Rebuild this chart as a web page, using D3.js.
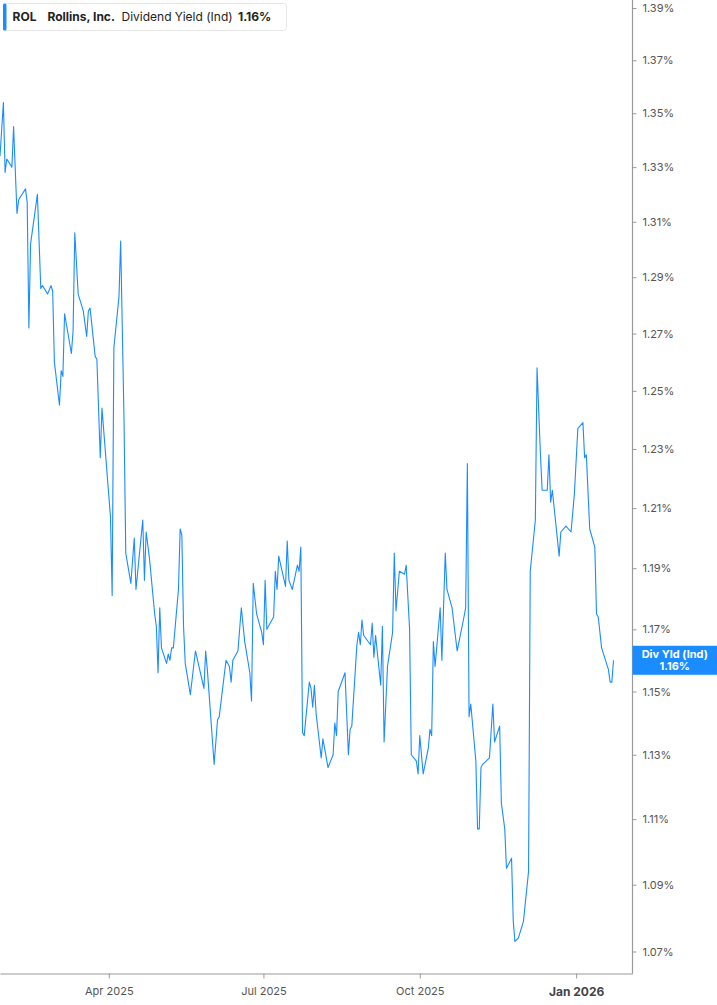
<!DOCTYPE html>
<html lang="en">

<head>
    <meta charset="UTF-8">
    <title>ROL Dividend Yield (Ind)</title>
    <script src="https://cdn.jsdelivr.net/npm/d3@7"></script>
    <style>
        body { margin: 0; background: #fff; }
        svg text { font-family: Inter, "Noto Sans", Arial, sans-serif; }
    </style>
</head>

<body>
    <svg width="717" height="1005"></svg>

    <script>
        // trading days and dividend yield (%)
        const dates = [
            "2025-01-27", "2025-01-29", "2025-01-30", "2025-01-31", "2025-02-03", "2025-02-04", "2025-02-06", "2025-02-07",
            "2025-02-11", "2025-02-12", "2025-02-13", "2025-02-14", "2025-02-18", "2025-02-20", "2025-02-21", "2025-02-24",
            "2025-02-26", "2025-02-27", "2025-02-28", "2025-03-03", "2025-03-04", "2025-03-05", "2025-03-06", "2025-03-10",
            "2025-03-11", "2025-03-12", "2025-03-14", "2025-03-17", "2025-03-19", "2025-03-20", "2025-03-21", "2025-03-24",
            "2025-03-25", "2025-03-27", "2025-03-28", "2025-04-02", "2025-04-03", "2025-04-04", "2025-04-07", "2025-04-08",
            "2025-04-10", "2025-04-11", "2025-04-14", "2025-04-16", "2025-04-17", "2025-04-21", "2025-04-22", "2025-04-23",
            "2025-04-25", "2025-04-28", "2025-04-29", "2025-04-30", "2025-05-01", "2025-05-02", "2025-05-05", "2025-05-06",
            "2025-05-07", "2025-05-08", "2025-05-09", "2025-05-12", "2025-05-13", "2025-05-14", "2025-05-15", "2025-05-16",
            "2025-05-19", "2025-05-22", "2025-05-27", "2025-05-28", "2025-05-29", "2025-06-02", "2025-06-04", "2025-06-05",
            "2025-06-09", "2025-06-11", "2025-06-12", "2025-06-13", "2025-06-16", "2025-06-18", "2025-06-20", "2025-06-23",
            "2025-06-24", "2025-06-25", "2025-06-27", "2025-06-30", "2025-07-01", "2025-07-02", "2025-07-03", "2025-07-07",
            "2025-07-08", "2025-07-09", "2025-07-10", "2025-07-14", "2025-07-15", "2025-07-16", "2025-07-18", "2025-07-21",
            "2025-07-22", "2025-07-23", "2025-07-24", "2025-07-25", "2025-07-28", "2025-07-29", "2025-07-30", "2025-07-31",
            "2025-08-01", "2025-08-04", "2025-08-05", "2025-08-08", "2025-08-11", "2025-08-12", "2025-08-13", "2025-08-14",
            "2025-08-18", "2025-08-19", "2025-08-20", "2025-08-21", "2025-08-22", "2025-08-25", "2025-08-26", "2025-08-27",
            "2025-08-28", "2025-08-29", "2025-09-02", "2025-09-03", "2025-09-04", "2025-09-05", "2025-09-08", "2025-09-09",
            "2025-09-10", "2025-09-12", "2025-09-15", "2025-09-16", "2025-09-17", "2025-09-19", "2025-09-22", "2025-09-23",
            "2025-09-25", "2025-09-26", "2025-09-29", "2025-09-30", "2025-10-01", "2025-10-03", "2025-10-06", "2025-10-07",
            "2025-10-08", "2025-10-09", "2025-10-10", "2025-10-13", "2025-10-14", "2025-10-16", "2025-10-17", "2025-10-20",
            "2025-10-23", "2025-10-27", "2025-10-28", "2025-10-29", "2025-10-30", "2025-10-31", "2025-11-03", "2025-11-04",
            "2025-11-05", "2025-11-06", "2025-11-07", "2025-11-11", "2025-11-13", "2025-11-14", "2025-11-17", "2025-11-18",
            "2025-11-20", "2025-11-21", "2025-11-24", "2025-11-25", "2025-11-26", "2025-11-28", "2025-12-01", "2025-12-04",
            "2025-12-05", "2025-12-08", "2025-12-09", "2025-12-11", "2025-12-12", "2025-12-15", "2025-12-16", "2025-12-17",
            "2025-12-18", "2025-12-22", "2025-12-23", "2025-12-26", "2025-12-29", "2025-12-31", "2026-01-02", "2026-01-05",
            "2026-01-06", "2026-01-07", "2026-01-09", "2026-01-12", "2026-01-13", "2026-01-14", "2026-01-16", "2026-01-20",
            "2026-01-21", "2026-01-22", "2026-01-23"
        ];

        const yields = [
            1.334, 1.354, 1.328, 1.333, 1.330, 1.345, 1.313, 1.318,
            1.322, 1.317, 1.272, 1.302, 1.320, 1.286, 1.287, 1.284,
            1.287, 1.285, 1.260, 1.245, 1.257, 1.255, 1.277, 1.263,
            1.271, 1.306, 1.284, 1.278, 1.269, 1.278, 1.279, 1.262,
            1.261, 1.227, 1.244, 1.207, 1.181, 1.265, 1.283, 1.303,
            1.239, 1.195, 1.185, 1.200, 1.183, 1.206, 1.186, 1.202,
            1.193, 1.175, 1.171, 1.156, 1.177, 1.164, 1.159, 1.162,
            1.160, 1.164, 1.164, 1.183, 1.203, 1.201, 1.171, 1.159,
            1.149, 1.163, 1.151, 1.163, 1.157, 1.127, 1.141, 1.142,
            1.160, 1.158, 1.153, 1.160, 1.163, 1.177, 1.166, 1.156,
            1.147, 1.185, 1.175, 1.169, 1.165, 1.186, 1.170, 1.174,
            1.189, 1.183, 1.194, 1.184, 1.199, 1.186, 1.183, 1.191,
            1.189, 1.197, 1.137, 1.136, 1.153, 1.151, 1.145, 1.152,
            1.143, 1.129, 1.135, 1.126, 1.130, 1.140, 1.136, 1.150,
            1.156, 1.143, 1.130, 1.138, 1.139, 1.165, 1.169, 1.165,
            1.173, 1.168, 1.165, 1.172, 1.161, 1.168, 1.152, 1.171,
            1.134, 1.158, 1.169, 1.195, 1.176, 1.189, 1.188, 1.191,
            1.170, 1.130, 1.128, 1.124, 1.136, 1.124, 1.132, 1.138,
            1.136, 1.166, 1.158, 1.177, 1.160, 1.195, 1.183, 1.177,
            1.163, 1.174, 1.177, 1.225, 1.142, 1.146, 1.128, 1.107,
            1.107, 1.126, 1.127, 1.129, 1.146, 1.134, 1.139, 1.115,
            1.107, 1.095, 1.098, 1.079, 1.073, 1.074, 1.079, 1.094,
            1.189, 1.206, 1.258, 1.228, 1.216, 1.216, 1.228, 1.212,
            1.216, 1.194, 1.202, 1.204, 1.202, 1.215, 1.237, 1.239,
            1.227, 1.228, 1.203, 1.197, 1.175, 1.174, 1.164, 1.157,
            1.153, 1.153, 1.160
        ];

        const yTicks = [1.07, 1.09, 1.11, 1.13, 1.15, 1.17, 1.19, 1.21, 1.23, 1.25, 1.27, 1.29, 1.31, 1.33, 1.35, 1.37, 1.39];
        const xTickDates = ["2025-04-01", "2025-07-01", "2025-10-01", "2026-01-01"];
        const xTickLabels = ["Apr 2025", "Jul 2025", "Oct 2025", "Jan 2026"];
        const xDomain = ["2025-01-27T00:00", "2026-02-03T04:00"];

        const lineColor = "#1a8cff";
        const axisColor = "#9a9a9a";
        const plotRight = 632.5;
        const plotBottom = 973.5;

        const parseDate = d3.timeParse("%Y-%m-%d");
        const parseTime = d3.timeParse("%Y-%m-%dT%H:%M");
        const series = dates.map((d, i) => ({ date: parseDate(d), value: yields[i] }));

        const svg = d3.select("svg");

        const xScale = d3.scaleTime()
            .domain(xDomain.map(parseTime))
            .range([0, plotRight]);

        const yScale = d3.scaleLog()
            .domain([1.07, 1.39])
            .range([951.5, 8]);

        function drawAxes() {
            // right value axis
            const yAxis = svg.append("g")
                .attr("transform", `translate(${plotRight},0)`)
                .call(d3.axisRight(yScale)
                    .tickValues(yTicks)
                    .tickFormat(d => d.toFixed(2) + "%")
                    .tickSize(4)
                    .tickSizeOuter(0)
                    .tickPadding(6));
            yAxis.select(".domain").remove();
            yAxis.selectAll("line").attr("stroke", axisColor);
            yAxis.selectAll("text")
                .style("font-size", "11px")
                .attr("fill", "#555");

            svg.append("line")
                .attr("x1", plotRight)
                .attr("x2", plotRight)
                .attr("y1", 0)
                .attr("y2", plotBottom)
                .attr("stroke", axisColor)
                .attr("stroke-width", 1.2);

            // bottom date axis
            const xAxis = svg.append("g")
                .attr("transform", `translate(0,${plotBottom})`)
                .call(d3.axisBottom(xScale)
                    .tickValues(xTickDates.map(parseDate))
                    .tickFormat((d, i) => xTickLabels[i])
                    .tickSize(5)
                    .tickSizeOuter(0)
                    .tickPadding(9));
            xAxis.select(".domain").attr("stroke", axisColor).attr("stroke-width", 1.2);
            xAxis.selectAll("line").attr("stroke", axisColor);
            xAxis.selectAll("text")
                .style("font-size", "11px")
                .attr("fill", "#555")
                .filter((d, i) => xTickLabels[i].startsWith("Jan"))
                .style("font-size", "12px")
                .style("font-weight", "bold")
                .attr("fill", "#444");
        }

        function drawLine() {
            const line = d3.line()
                .x(d => xScale(d.date))
                .y(d => yScale(d.value));

            svg.append("path")
                .datum(series)
                .attr("fill", "none")
                .attr("stroke", lineColor)
                .attr("stroke-width", 1.1)
                .attr("stroke-linejoin", "round")
                .attr("d", line);
        }

        function drawLastValueTag() {
            const last = series[series.length - 1];
            const cy = yScale(last.value);

            svg.append("rect")
                .attr("x", plotRight)
                .attr("y", cy - 14.5)
                .attr("width", 717 - plotRight)
                .attr("height", 29)
                .attr("fill", lineColor);

            svg.append("text")
                .attr("x", (plotRight + 717) / 2)
                .attr("y", cy - 2.5)
                .attr("text-anchor", "middle")
                .attr("fill", "#fff")
                .style("font-size", "11px")
                .style("font-weight", "bold")
                .text("Div Yld (Ind)");

            svg.append("text")
                .attr("x", (plotRight + 717) / 2)
                .attr("y", cy + 10)
                .attr("text-anchor", "middle")
                .attr("fill", "#fff")
                .style("font-size", "11px")
                .style("font-weight", "bold")
                .text(last.value.toFixed(2) + "%");
        }

        function drawLegend() {
            const last = series[series.length - 1];

            svg.append("rect")
                .attr("x", 3.5)
                .attr("y", 3.5)
                .attr("width", 283)
                .attr("height", 27)
                .attr("rx", 3)
                .attr("fill", "#fff")
                .attr("stroke", "#e6e6e6");

            svg.append("rect")
                .attr("x", 3)
                .attr("y", 3.5)
                .attr("width", 3.5)
                .attr("height", 27)
                .attr("rx", 1.5)
                .attr("fill", lineColor);

            const parts = [
                { text: "ROL", x: 12.5, weight: "bold" },
                { text: "Rollins, Inc.", x: 47.5, weight: "bold" },
                { text: "Dividend Yield (Ind)", x: 121.5, weight: "normal" },
                { text: last.value.toFixed(2) + "%", x: 238, weight: "bold" }
            ];

            svg.selectAll(".legend-text")
                .data(parts)
                .enter().append("text")
                .attr("class", "legend-text")
                .attr("x", d => d.x)
                .attr("y", 21)
                .attr("fill", "#222")
                .style("font-size", "12px")
                .style("font-weight", d => d.weight)
                .text(d => d.text);
        }

        drawAxes();
        drawLine();
        drawLastValueTag();
        drawLegend();
    </script>
</body>

</html>
